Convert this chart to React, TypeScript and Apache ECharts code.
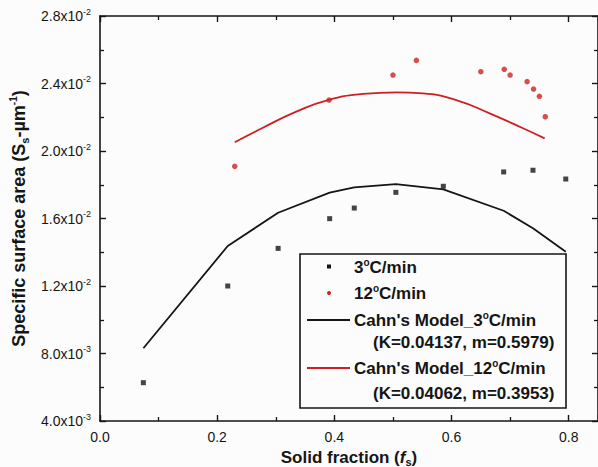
import React, { useEffect, useRef } from "react";
import * as echarts from "echarts";

// 3 °C/min measured data
const xs3 = [0.074, 0.218, 0.304, 0.392, 0.434, 0.505, 0.586, 0.689, 0.739, 0.795];
const ys3 = [0.00627, 0.0120, 0.01423, 0.01599, 0.01662, 0.01755, 0.01791, 0.01876, 0.01886, 0.01834];
// Cahn's model 3 °C/min
const model3 = [0.00831, 0.01437, 0.01634, 0.01753, 0.01785, 0.01804, 0.01773, 0.01646, 0.01542, 0.01403];

// 12 °C/min measured data
const xs12 = [0.230, 0.391, 0.500, 0.540, 0.650, 0.690, 0.700, 0.729, 0.740, 0.750, 0.760];
const ys12 = [0.01909, 0.02302, 0.0245, 0.02537, 0.0247, 0.02484, 0.0245, 0.02411, 0.02367, 0.02324, 0.02203];
// Cahn's model 12 °C/min
const modelX12 = [0.230, 0.278, 0.335, 0.389, 0.449, 0.506, 0.551, 0.608, 0.665, 0.722, 0.759];
const model12 = [0.02052, 0.02138, 0.02233, 0.02302, 0.02338, 0.02348, 0.02342, 0.02302, 0.02223, 0.02135, 0.02075];

// x tick labels
const xLabels = [0, 0.2, 0.4, 0.6, 0.8];

const X_MIN = 0;
const X_MAX = 0.85;
const Y_MIN = 0.004;
const Y_MAX = 0.028;

const FONT = "'Liberation Sans', Arial, Helvetica, sans-serif";
const RED = "#cf1f22";
const BLACK = "#151515";

function yFmt(v: number): string {
  if (v <= 0) return "";
  const e = Math.floor(Math.log10(v) + 1e-9);
  const m = v / Math.pow(10, e);
  return `{m|${m.toFixed(1)}x10}{p|${e}}`;
}

export default function App() {
  const ref = useRef<HTMLDivElement>(null);
  useEffect(() => {
    if (!ref.current) return;
    const chart = echarts.init(ref.current, null, { renderer: "svg" });
    const axisLine = { show: true, onZero: false, lineStyle: { color: BLACK, width: 1.6 } };
    const axisTick = { show: true, inside: true, length: 6, lineStyle: { color: BLACK, width: 1.4 } };
    const minorTick = { show: true, splitNumber: 2, length: 4, lineStyle: { color: BLACK, width: 1.3 } };
    const bold = { fontFamily: FONT, fontWeight: "bold", fontSize: 17, color: BLACK, lineHeight: 20 };
    const boldY = { ...bold, fontSize: 18, lineHeight: 22 };
    const legendRich = {
      b: { ...bold, fill: BLACK },
      s: { fontFamily: FONT, fontWeight: "bold", fontSize: 10, lineHeight: 10, verticalAlign: "top", fill: BLACK },
    } as any;
    const legendText = (x: number, y: number, text: string) => ({
      type: "text", x, y, z: 101,
      style: { text, rich: legendRich, verticalAlign: "middle", align: "left", font: `bold 17px ${FONT}` },
    });

    chart.setOption({
      animation: false,
      backgroundColor: "#fcfcfc",
      grid: { left: 100, right: 0, top: 16, bottom: 46, containLabel: false, outerBoundsMode: "none" },
      xAxis: [
        {
          type: "value", min: X_MIN, max: X_MAX, interval: 0.2, position: "bottom",
          axisLine, axisTick, minorTick, splitLine: { show: false },
          axisLabel: {
            margin: 9, fontFamily: FONT, fontSize: 14, color: BLACK, showMaxLabel: false,
            formatter: (v: number) => (xLabels.some((t) => Math.abs(t - v) < 1e-6) ? v.toFixed(1) : ""),
          },
          name: "{b|Solid fraction (}{i|f}{sub|s}{b|)}", nameLocation: "middle", nameGap: 22,
          nameTextStyle: {
            rich: {
              b: bold, i: { ...bold, fontStyle: "italic" },
              sub: { fontFamily: FONT, fontWeight: "bold", fontSize: 11, lineHeight: 11, verticalAlign: "bottom", color: BLACK },
            },
          },
        },
        {
          type: "value", min: X_MIN, max: X_MAX, interval: 0.2, position: "top",
          axisLine, axisTick, minorTick, splitLine: { show: false }, axisLabel: { show: false },
        },
      ],
      yAxis: [
        {
          type: "value", min: Y_MIN, max: Y_MAX, interval: 0.004, position: "left",
          axisLine, axisTick, minorTick, splitLine: { show: false },
          axisLabel: {
            margin: 9, formatter: yFmt,
            rich: {
              m: { fontFamily: FONT, fontSize: 14, lineHeight: 18, color: BLACK },
              p: { fontFamily: FONT, fontSize: 9, lineHeight: 9, verticalAlign: "top", color: BLACK },
            },
          },
          name: "{b|Specific surface area (S}{sub|s}{b|-µm}{sup|-1}{b|)}", nameLocation: "middle", nameGap: 70,
          nameTextStyle: {
            rich: {
              b: boldY,
              sub: { fontFamily: FONT, fontWeight: "bold", fontSize: 11, lineHeight: 11, verticalAlign: "bottom", color: BLACK },
              sup: { fontFamily: FONT, fontWeight: "bold", fontSize: 10, lineHeight: 10, verticalAlign: "top", color: BLACK },
            },
          },
        },
        {
          type: "value", min: Y_MIN, max: Y_MAX, interval: 0.004, position: "right",
          axisLine, axisTick, minorTick, splitLine: { show: false }, axisLabel: { show: false },
        },
      ],
      series: [
        {
          type: "line", name: "Cahn's Model_3°C/min", data: xs3.map((x, i) => [x, model3[i]]),
          showSymbol: false, lineStyle: { color: BLACK, width: 1.8 }, itemStyle: { color: BLACK }, z: 2,
        },
        {
          type: "line", name: "Cahn's Model_12°C/min", data: modelX12.map((x, i) => [x, model12[i]]),
          smooth: true, showSymbol: false, lineStyle: { color: RED, width: 1.8 }, itemStyle: { color: RED }, z: 2,
        },
        {
          type: "scatter", name: "3°C/min", symbol: "rect", symbolSize: 5,
          data: xs3.map((x, i) => [x, ys3[i]]), itemStyle: { color: BLACK }, z: 3,
        },
        {
          type: "scatter", name: "12°C/min", symbol: "circle", symbolSize: 5.5,
          data: xs12.map((x, i) => [x, ys12[i]]), itemStyle: { color: RED }, z: 3,
        },
      ],
      graphic: [
        { type: "rect", z: 100, shape: { x: 300, y: 254, width: 266, height: 154 }, style: { fill: "#fcfcfc", stroke: BLACK, lineWidth: 1.6 } },
        { type: "rect", z: 101, shape: { x: 327, y: 264.5, width: 4, height: 4 }, style: { fill: BLACK } },
        { type: "circle", z: 101, shape: { cx: 329, cy: 293, r: 2 }, style: { fill: RED } },
        { type: "line", z: 101, shape: { x1: 307, y1: 320, x2: 350, y2: 320 }, style: { stroke: BLACK, lineWidth: 1.8 } },
        { type: "line", z: 101, shape: { x1: 307, y1: 368, x2: 350, y2: 368 }, style: { stroke: RED, lineWidth: 1.8 } },
        legendText(354, 267, "{b|3}{s|o}{b|C/min}"),
        legendText(354, 293, "{b|12}{s|o}{b|C/min}"),
        legendText(354, 320, "{b|Cahn's Model_3}{s|o}{b|C/min}"),
        legendText(373, 342, "{b|(K=0.04137, m=0.5979)}"),
        legendText(354, 368, "{b|Cahn's Model_12}{s|o}{b|C/min}"),
        legendText(373, 393, "{b|(K=0.04062, m=0.3953)}"),
      ],
    });
    return () => chart.dispose();
  }, []);
  return <div ref={ref} style={{ position: "fixed", left: 0, top: 0, width: 598, height: 467 }} />;
}
